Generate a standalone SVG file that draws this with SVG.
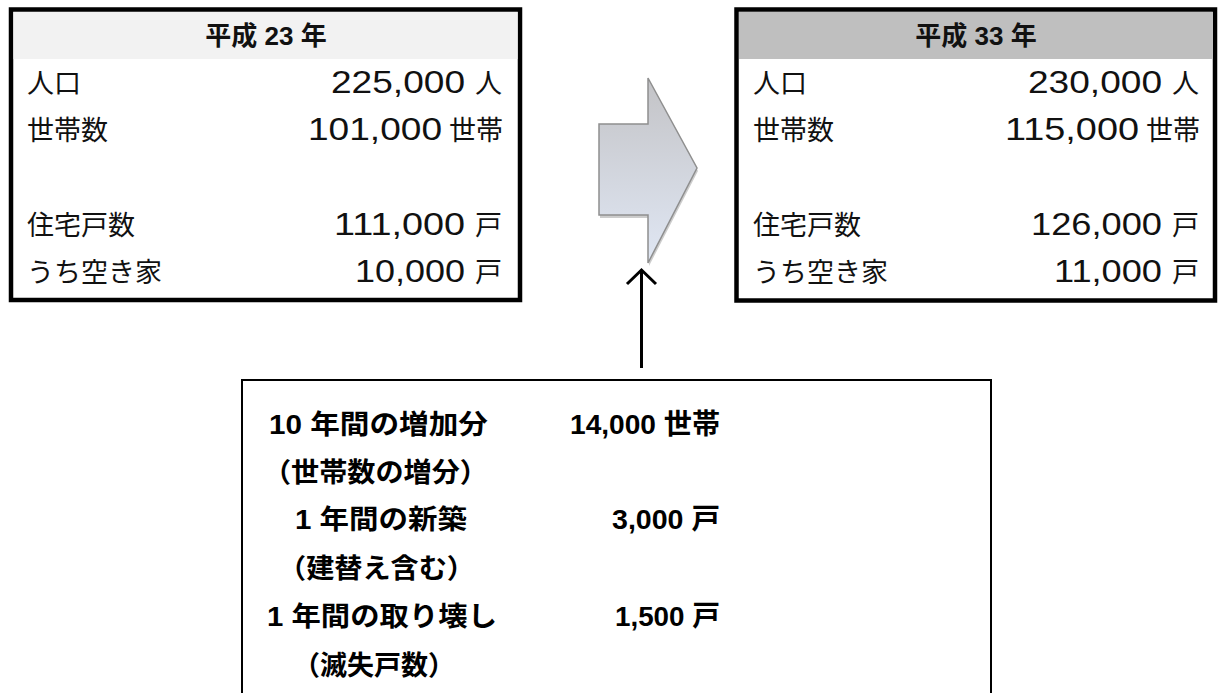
<svg xmlns="http://www.w3.org/2000/svg" width="1218" height="693" viewBox="0 0 1218 693">
  <style>
    .lbl { font-family: "Liberation Sans", "Noto Sans CJK JP", sans-serif; font-size: 27px; fill: #111; }
    .num { font-family: "Liberation Sans", "Noto Sans CJK JP", sans-serif; font-size: 31px; fill: #111; }
    .hdr { font-family: "Liberation Sans", "Noto Sans CJK JP", sans-serif; font-size: 26px; font-weight: bold; fill: #111; text-anchor: middle; }
    .bl { font-family: "Liberation Sans", "Noto Sans CJK JP", sans-serif; font-size: 27px; font-weight: bold; fill: #000; }
    .bv { font-family: "Liberation Sans", "Noto Sans CJK JP", sans-serif; font-size: 28px; font-weight: bold; fill: #000; }
    .box { fill: #fff; stroke: #000; stroke-width: 4.5; }
  </style>
  <defs>
    <linearGradient id="arrowGrad" x1="0" y1="0" x2="0" y2="1">
      <stop offset="0" stop-color="#c3c3c6"/>
      <stop offset="1" stop-color="#e0e7f4"/>
    </linearGradient>
  </defs>
  <rect width="1218" height="693" fill="#fff"/>

  <g id="box-h23">
    <rect class="box" x="11" y="9.5" width="509" height="290.5"/>
    <rect x="13.5" y="12" width="504" height="47" fill="#f2f2f2"/>
    <text class="hdr" x="266" y="45">平成 23 年</text>
    <text class="lbl" x="27" y="93">人口</text>
    <text class="num" x="331" y="93" textLength="134" lengthAdjust="spacingAndGlyphs">225,000</text>
    <text class="lbl" x="475" y="93">人</text>
    <text class="lbl" x="27" y="140">世帯数</text>
    <text class="num" x="308" y="140" textLength="134" lengthAdjust="spacingAndGlyphs">101,000</text>
    <text class="lbl" x="449" y="140">世帯</text>
    <text class="lbl" x="27" y="235">住宅戸数</text>
    <text class="num" x="334" y="235" textLength="131" lengthAdjust="spacingAndGlyphs">111,000</text>
    <text class="lbl" x="475" y="235">戸</text>
    <text class="lbl" x="27" y="282">うち空き家</text>
    <text class="num" x="355" y="282" textLength="110" lengthAdjust="spacingAndGlyphs">10,000</text>
    <text class="lbl" x="475" y="282">戸</text>
  </g>

  <g id="arrow-shape">
    <polygon points="600,127 649,127 649,81 698,171 649,266 649,218 600,218" fill="#9a9a9a" opacity="0.5"/>
    <polygon points="599,124 648,124 648,78 697,168 648,263 648,215 599,215" fill="url(#arrowGrad)" stroke="#8f8f8f" stroke-width="1.5"/>
  </g>

  <g id="box-h33">
    <rect class="box" x="736.5" y="9.5" width="478.5" height="291"/>
    <rect x="739" y="12" width="473.5" height="47" fill="#bfbfbf"/>
    <text class="hdr" x="976" y="45">平成 33 年</text>
    <text class="lbl" x="753" y="93">人口</text>
    <text class="num" x="1028" y="93" textLength="134" lengthAdjust="spacingAndGlyphs">230,000</text>
    <text class="lbl" x="1172" y="93">人</text>
    <text class="lbl" x="753" y="140">世帯数</text>
    <text class="num" x="1005" y="140" textLength="134" lengthAdjust="spacingAndGlyphs">115,000</text>
    <text class="lbl" x="1146" y="140">世帯</text>
    <text class="lbl" x="753" y="235">住宅戸数</text>
    <text class="num" x="1031" y="235" textLength="131" lengthAdjust="spacingAndGlyphs">126,000</text>
    <text class="lbl" x="1172" y="235">戸</text>
    <text class="lbl" x="753" y="282">うち空き家</text>
    <text class="num" x="1054" y="282" textLength="108" lengthAdjust="spacingAndGlyphs">11,000</text>
    <text class="lbl" x="1172" y="282">戸</text>
  </g>

  <g id="connectors">
    <line x1="641.5" y1="271" x2="641.5" y2="368" stroke="#000" stroke-width="3"/>
    <polyline points="627,284 641.5,270 656,284" fill="none" stroke="#000" stroke-width="3"/>
  </g>

  <g id="box-increase">
    <rect x="242" y="380" width="749" height="340" fill="#fff" stroke="#000" stroke-width="2"/>
    <text class="bl" x="269" y="434" textLength="219" lengthAdjust="spacingAndGlyphs">10 年間の増加分</text>
    <text class="bv" x="570" y="434" textLength="150" lengthAdjust="spacingAndGlyphs">14,000 世帯</text>
    <text class="bl" x="263" y="482" textLength="225" lengthAdjust="spacingAndGlyphs">（世帯数の増分）</text>
    <text class="bl" x="295" y="529" textLength="172" lengthAdjust="spacingAndGlyphs">1 年間の新築</text>
    <text class="bv" x="612" y="529" textLength="108" lengthAdjust="spacingAndGlyphs">3,000 戸</text>
    <text class="bl" x="278" y="578" textLength="197" lengthAdjust="spacingAndGlyphs">（建替え含む）</text>
    <text class="bl" x="267" y="626" textLength="230" lengthAdjust="spacingAndGlyphs">1 年間の取り壊し</text>
    <text class="bv" x="615" y="626" textLength="105" lengthAdjust="spacingAndGlyphs">1,500 戸</text>
    <text class="bl" x="293" y="675" textLength="162" lengthAdjust="spacingAndGlyphs">（滅失戸数）</text>
  </g>
</svg>
